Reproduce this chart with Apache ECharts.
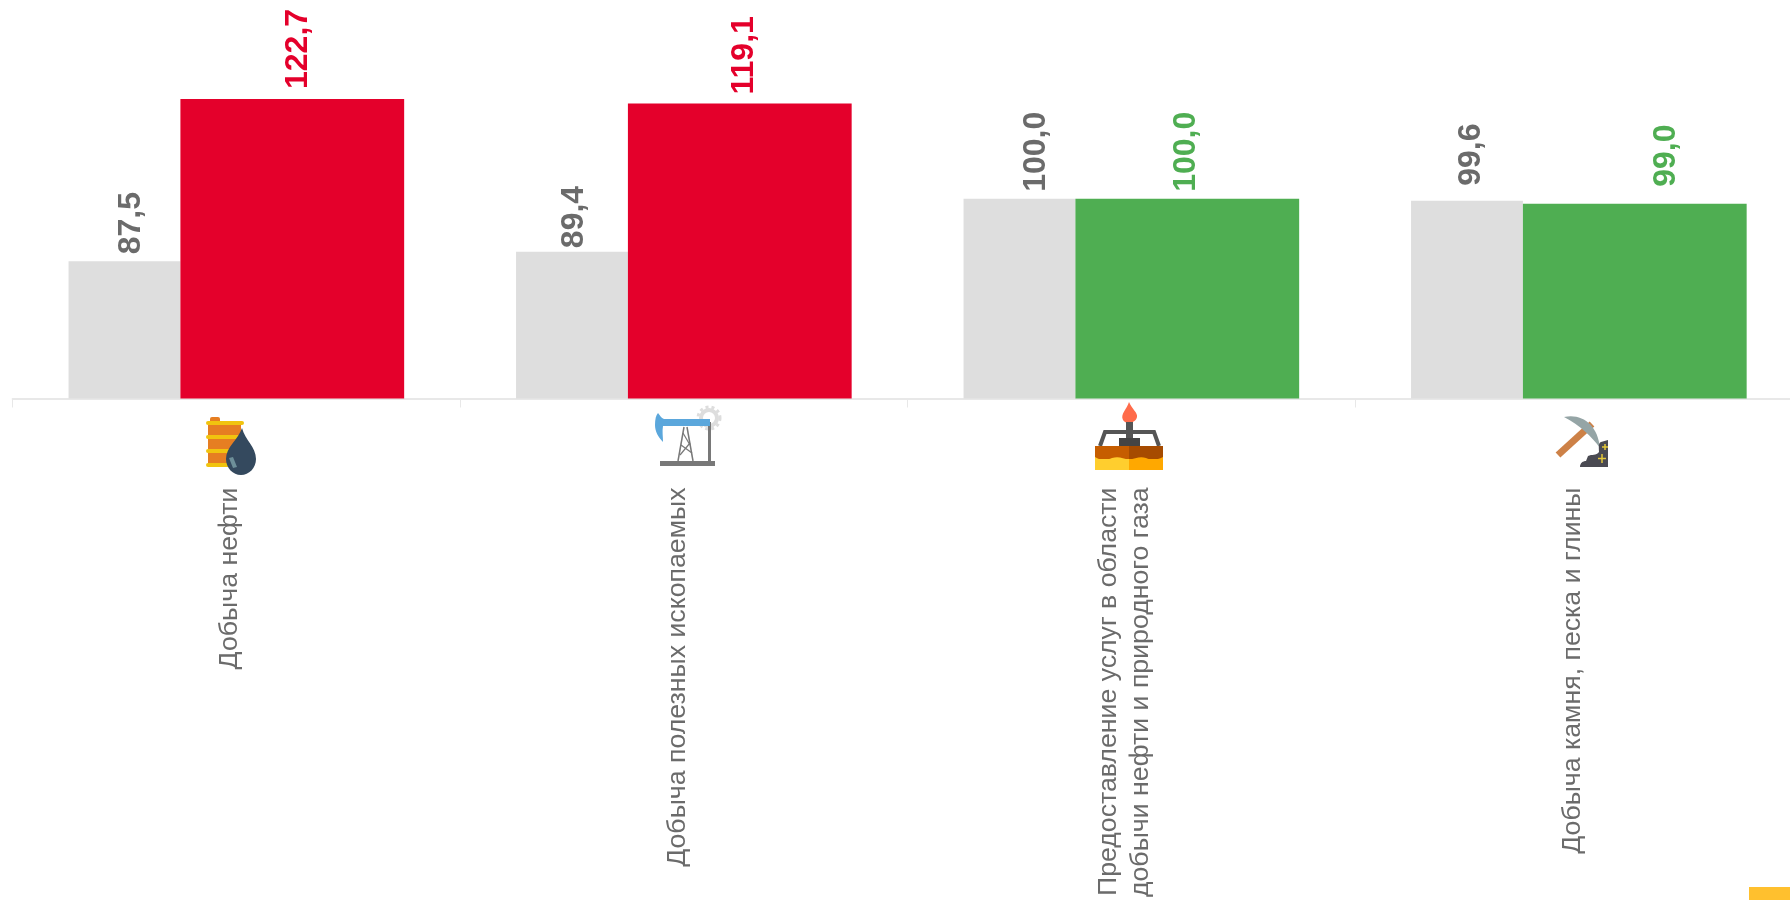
<!DOCTYPE html>
<html><head><meta charset="utf-8">
<style>html,body{margin:0;padding:0;background:#fff}#c{width:1790px;height:900px}</style>
<script src="https://cdn.jsdelivr.net/npm/echarts@6/dist/echarts.min.js"></script>
</head><body><div id="c"></div>
<script>
const categories = ['Добыча нефти','Добыча полезных ископаемых','Предоставление услуг в области\nдобычи нефти и природного газа','Добыча камня, песка и глины'];
const previousValues = [87.5, 89.4, 100.0, 99.6];
const currentValues = [122.7, 119.1, 100.0, 99.0];
// label nudges: [along the rotated text (up), across it (right)]
const previousNudge = [[5,7],[1.6,2.3],[5,17],[13,4.5]];
const currentNudge = [[8,5.7],[7,4.5],[5,-1],[15,31]];
const GRAY='#dedede', RED='#e4002b', GREEN='#4fae52', TEXT='#6b6b6b';
const fmt = v => v.toFixed(1).replace('.',',');
const tone = v => v > 100 ? RED : GREEN;
const FONT='"Liberation Sans", Arial, sans-serif';
const chart = echarts.init(document.getElementById('c'), null, {renderer:'canvas'});
const valueLabel = (color) => ({show:true, position:'top', distance:2, rotate:90, align:'left', verticalAlign:'middle',
  fontFamily:FONT, fontSize:32, fontWeight:'bold', formatter:p=>fmt(p.value), color});
chart.setOption({
  animation:false,
  backgroundColor:'#fff',
  grid:[
    {left:12.6, top:99, width:1790, height:299.5, containLabel:false, outerBoundsMode:'none'},
    {left:6.1, top:99, width:1790, height:299.5, containLabel:false, outerBoundsMode:'none'}
  ],
  xAxis:[
    {type:'category', gridIndex:0, data:categories,
      axisLine:{lineStyle:{color:'#e8e8e8',width:2}},
      axisTick:{show:true,length:9,lineStyle:{color:'#e8e8e8',width:1}},
      axisLabel:{show:false}},
    {type:'category', gridIndex:1, data:categories,
      axisLine:{show:false}, axisTick:{show:false},
      axisLabel:{rotate:90, margin:89, interval:0, fontFamily:FONT, fontSize:26.7, lineHeight:31.5, color:TEXT}}
  ],
  yAxis:[
    {type:'value', gridIndex:0, min:60, max:120, show:false, splitLine:{show:false}},
    {type:'value', gridIndex:1, min:60, max:120, show:false, splitLine:{show:false}}
  ],
  series:[
    {type:'bar', name:'prev', barWidth:'25%', barGap:'0%', itemStyle:{color:GRAY},
      data:previousValues.map((v,i)=>({value:v,label:{offset:previousNudge[i]}})),
      label:valueLabel(TEXT)},
    {type:'bar', name:'curr', barWidth:'50%', barGap:'0%',
      data:currentValues.map((v,i)=>({value:v,itemStyle:{color:tone(v)},label:{color:tone(v),offset:currentNudge[i]}})),
      label:valueLabel(RED)}
  ]
});
// decorative pictograms
let shapeCount=0;
const rect=(x,y,w,h,fill)=>({type:'rect',shape:{x,y,width:w,height:h},style:{fill}});
const rrect=(x,y,w,h,r,fill)=>({type:'rect',shape:{x,y,width:w,height:h,r},style:{fill}});
const poly=(points,fill)=>({type:'polygon',shape:{points},style:{fill}});
const line=(x1,y1,x2,y2,stroke,lineWidth)=>({type:'line',shape:{x1,y1,x2,y2},style:{stroke,lineWidth}});
const path=(d,fill)=>{const name='iconShape'+(shapeCount++);echarts.graphic.registerShape(name,echarts.graphic.extendPath(d,{}));return {type:name,style:{fill}};};
const barrel=[
  rrect(20,22,10,6,2,'#e67e22'), rect(18,28,33,42,'#e67e22'),
  rrect(16,26,38,4,2,'#f1c40f'), rrect(16,40,38,4,2,'#f1c40f'), rrect(16,54,38,4,2,'#f1c40f'), rrect(16,68,38,4,2,'#f1c40f'),
  path('M52 33 C55 45 66 52 66 64 C66 73 59 80 51 80 C43 80 36 73 36 64 C36 52 48 45 52 33Z','#34495e'),
  poly([[39,63],[43,62],[47,72],[43,73]],'#6d8f99')
];
const pump=[
  {type:'circle',shape:{cx:69,cy:23,r:8},style:{fill:'none',stroke:'#dddddd',lineWidth:4}},
  {type:'circle',shape:{cx:69,cy:23,r:11},style:{fill:'none',stroke:'#dddddd',lineWidth:3,lineDash:[3,3]}},
  rect(20,66,55,5,'#787878'), rect(68,27,3,40,'#787878'),
  line(38,66,44,32,'#787878',1.5), line(53,66,47,32,'#787878',1.5),
  line(41,50,52,58,'#787878',1.2), line(43,38,50,50,'#787878',1.2), line(40,60,50,48,'#787878',1.2),
  rect(20,24,50,7,'#5ba7dc'),
  path('M15 30 C15 24 16 20 18 18 C20 20 21 23 24 24 L24 31 L23 31 C22 36 23 42 23 47 C18 42 15 36 15 30Z','#5ba7dc')
];
const rig=[
  path('M49 7 C52 14 58 18 57 22 C56 28 46 30 43 25 C40 19 47 14 49 7Z','#ff6b4a'),
  rect(46,27,7,24,'#555555'),
  {type:'polyline',shape:{points:[[20,51],[25,37],[74,37],[79,51]]},style:{stroke:'#555555',lineWidth:4,fill:'none'}},
  rect(39,43,21,9,'#444444'),
  rect(15,51,34,13,'#c65d00'), rect(49,51,34,13,'#a64b00'),
  rect(15,64,34,11,'#ffce2e'), rect(49,64,34,11,'#ffa800'),
  path('M15 62 C21 66 27 65 32 63 C38 61 43 63 49 65 L49 67 L15 67Z','#ffce2e'),
  path('M49 65 C55 63 61 61 66 63 C72 66 77 65 83 62 L83 67 L49 67Z','#ffa800')
];
const pick=[
  line(18,50,52,19,'#cd8147',7),
  path('M24 12 C42 8 58 20 60 43 C52 32 40 20 24 12Z','#95a5a6'),
  path('M48 51 C52 49 56 51 59 47 C59 43 58 38 61 37 L68 35 L68 62 L40 62 C40 58 43 56 46 56Z','#4a4a52'),
  line(62,49,62,58,'#e5c83a',1.5), line(58,53.5,66,53.5,'#e5c83a',1.5),
  line(65,39,65,45,'#e5c83a',1.5), line(62,42,68,42,'#e5c83a',1.5)
];
const iconX=[190,640,1080,1540], iconY=[395,395,395,405];
const icons=[barrel,pump,rig,pick];
const graphics=icons.map((children,i)=>({type:'group',x:iconX[i],y:iconY[i],children}));
graphics.push({type:'rect',shape:{x:1749,y:887,width:41,height:13},style:{fill:'#ffc02e'}});
chart.setOption({graphic:graphics});
</script></body></html>
